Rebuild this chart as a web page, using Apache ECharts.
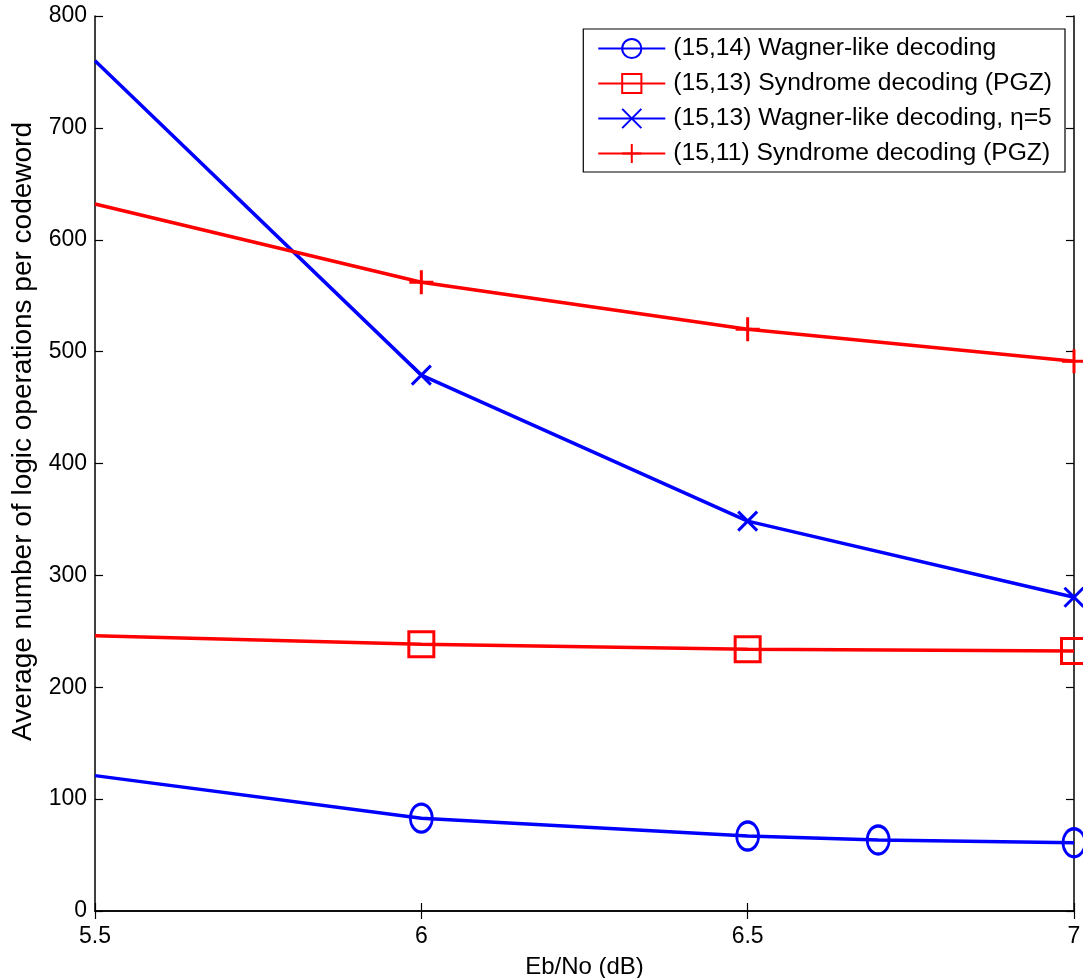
<!DOCTYPE html>
<html>
<head>
<meta charset="utf-8">
<script src="https://cdn.jsdelivr.net/npm/echarts@6/dist/echarts.min.js"></script>
<style>
  html, body { margin: 0; padding: 0; background: #fff; }
  #chart { width: 1083px; height: 978px; }
</style>
</head>
<body>
<div id="chart"></div>
<script>
// Eb/No points (dB)
const ebno = [5.5, 6, 6.5, 7]
const ebnoWagner1514 = [5.5, 6, 6.5, 6.7, 7]

// average logic operations per codeword
const wagner1514 = [121, 83, 67, 63.5, 61]
const syndrome1513 = [246, 238.5, 234, 232.5]
const wagner1513 = [760, 479, 348.5, 280.5]
const syndrome1511 = [632, 562, 520, 491.5]

const seriesNames = [
  '(15,14) Wagner-like decoding',
  '(15,13) Syndrome decoding (PGZ)',
  '(15,13) Wagner-like decoding, η=5',
  '(15,11) Syndrome decoding (PGZ)'
]

const font = 'Liberation Sans, Arial, sans-serif'
const crossX = 'path://M0,0L10,10M10,0L0,10'
const crossPlus = 'path://M5,0L5,10M0,5L10,5'

// first point sits on the left axis edge: no marker there (clipped in the original)
function pairs(xs, ys) {
  return xs.map((x, i) => {
    if (i === 0) return { value: [x, ys[i]], symbol: 'none' }
    return [x, ys[i]]
  })
}

const chart = echarts.init(document.getElementById('chart'), null, { renderer: 'canvas' })

const axisCommon = {
  axisLine: { show: true, lineStyle: { color: '#000', width: 1.5 } },
  axisTick: { show: true, inside: true, length: 8, lineStyle: { color: '#000', width: 1.2 } },
  splitLine: { show: false }
}

function lineSeries(name, xs, ys, color, symbol, size) {
  return {
    name: name,
    type: 'line',
    data: pairs(xs, ys),
    clip: true,
    symbol: symbol,
    symbolSize: size,
    showAllSymbol: true,
    lineStyle: { color: color, width: 3.5 },
    itemStyle: { color: 'rgba(0,0,0,0)', borderColor: color, borderWidth: 3 },
    emphasis: { disabled: true },
    animation: false
  }
}

const option = {
  backgroundColor: '#fff',
  textStyle: { fontFamily: font },
  grid: { left: 95, right: 9, top: 16, bottom: 67, containLabel: false, outerBoundsMode: 'none' },
  legend: {
    right: 18,
    top: 29,
    orient: 'vertical',
    data: seriesNames,
    itemWidth: 67,
    itemHeight: 24,
    itemGap: 10,
    padding: [7, 13, 6, 14],
    borderColor: '#000',
    borderWidth: 1.2,
    borderRadius: 0,
    backgroundColor: '#fff',
    textStyle: { fontSize: 24.7, color: '#000', fontFamily: font, padding: [0, 0, 0, 3] }
  },
  xAxis: [
    Object.assign({
      type: 'value',
      min: 5.5,
      max: 7,
      interval: 0.5,
      name: 'Eb/No (dB)',
      nameLocation: 'middle',
      nameGap: 44,
      nameTextStyle: { fontSize: 24, color: '#000' },
      axisLabel: { fontSize: 23, color: '#000', margin: 14 }
    }, axisCommon),
    Object.assign({
      type: 'value', position: 'top', min: 5.5, max: 7, interval: 0.5,
      axisLabel: { show: false }
    }, axisCommon)
  ],
  yAxis: [
    Object.assign({
      type: 'value',
      min: 0,
      max: 800,
      interval: 100,
      name: 'Average number of logic operations per codeword',
      nameLocation: 'middle',
      nameGap: 56,
      nameTextStyle: { fontSize: 28, color: '#000', padding: [0, 0, 0, 64] },
      axisLabel: { fontSize: 23, color: '#000', margin: 8 }
    }, axisCommon),
    Object.assign({
      type: 'value', position: 'right', min: 0, max: 800, interval: 100,
      axisLabel: { show: false }
    }, axisCommon)
  ],
  series: [
    lineSeries(seriesNames[0], ebnoWagner1514, wagner1514, '#0000ff', 'circle', [22, 28]),
    lineSeries(seriesNames[1], ebno, syndrome1513, '#ff0000', 'rect', 25),
    lineSeries(seriesNames[2], ebno, wagner1513, '#0000ff', crossX, 19),
    lineSeries(seriesNames[3], ebno, syndrome1511, '#ff0000', crossPlus, 24)
  ]
}

chart.setOption(option)
</script>
</body>
</html>
